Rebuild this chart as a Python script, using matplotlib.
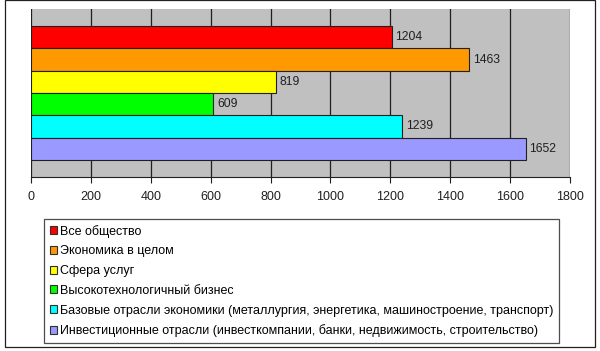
import matplotlib.pyplot as plt
from matplotlib.patches import Rectangle, Patch

plt.rcParams['font.family'] = ['Liberation Sans', 'DejaVu Sans']

# Data
categories = [
    "Все общество",
    "Экономика в целом",
    "Сфера услуг",
    "Высокотехнологичный бизнес",
    "Базовые отрасли экономики (металлургия, энергетика, машиностроение, транспорт)",
    "Инвестиционные отрасли (инвесткомпании, банки, недвижимость, строительство)",
]
values = [1204, 1463, 819, 609, 1239, 1652]
colors = ["#FF0000", "#FF9900", "#FFFF00", "#00FF00", "#00FFFF", "#9999FF"]
xticks = [0, 200, 400, 600, 800, 1000, 1200, 1400, 1600, 1800]

fig = plt.figure(figsize=(6, 3.51), dpi=100)
ax = fig.add_axes([0.0517, 0.496, 0.8983, 0.478])
ax.set_facecolor("#C0C0C0")

pos = list(range(len(values)))
ax.barh(pos, values, height=1.0, color=colors, edgecolor="#202020", linewidth=0.8, zorder=3)
for p, v in zip(pos, values):
    ax.text(v + 12, p, str(v), va="center", ha="left", fontsize=8.7, color="#202020", zorder=4)

ax.set_xlim(0, 1800)
ax.set_ylim(5.5 + 0.76, -0.5 - 0.76)
ax.set_xticks(xticks)
ax.set_yticks([])
ax.grid(axis="x", color="#202020", linewidth=0.9, zorder=1)
ax.tick_params(axis="x", direction="out", length=4, width=0.8, color="#202020",
               labelsize=9, pad=6, labelcolor="#202020")
ax.spines["top"].set_visible(False)
ax.spines["right"].set_visible(False)
ax.spines["left"].set_visible(False)
ax.spines["bottom"].set_color("#202020")
ax.spines["bottom"].set_linewidth(0.8)

handles = [Patch(facecolor=c, edgecolor="#303030", linewidth=0.8) for c in colors]
leg = fig.legend(handles, categories, loc="upper left",
                 bbox_to_anchor=(44 / 600, 1 - 219 / 351), fontsize=9,
                 frameon=True, fancybox=False, handlelength=0.62, handleheight=0.62,
                 handletextpad=0.2, labelspacing=0.62, borderpad=0.45, borderaxespad=0)
leg.get_frame().set_edgecolor("#202020")
leg.get_frame().set_linewidth(0.9)

# outer chart frame
fig.patches.append(Rectangle((5 / 600, 4 / 351), 590 / 600, 347 / 351, transform=fig.transFigure,
                             fill=False, edgecolor="#202020", linewidth=0.9))

fig.savefig("out.png", dpi=100)
